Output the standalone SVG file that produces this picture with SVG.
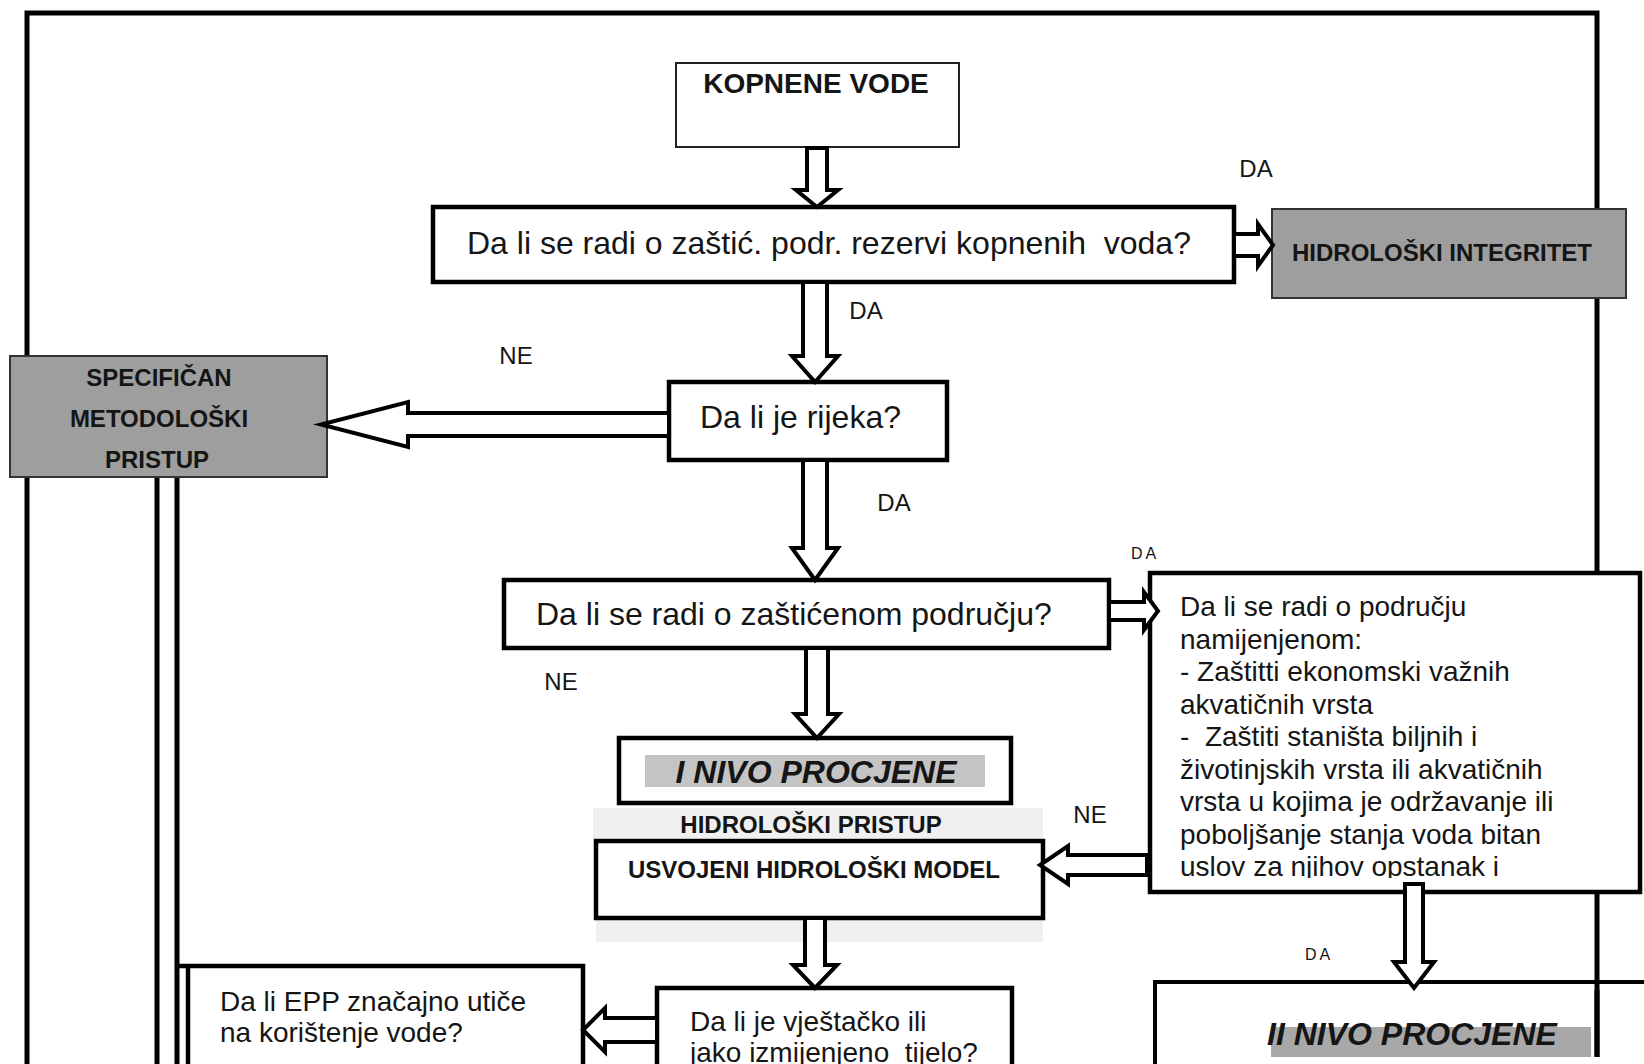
<svg xmlns="http://www.w3.org/2000/svg" width="1644" height="1064" viewBox="0 0 1644 1064">
<style>
text{font-family:"Liberation Sans",Arial,sans-serif;fill:#151515}
.q32{font-size:32px}
.q28{font-size:28px}
.b24{font-size:24px;font-weight:bold}
.b28{font-size:28px;font-weight:bold}
.bi32{font-size:32px;font-weight:bold;font-style:italic}
.lbl{font-size:24px}
.sm{font-size:16px;letter-spacing:3px}
.thick{fill:#fff;stroke:#000;stroke-width:4.5}
.thin{fill:#fff;stroke:#222;stroke-width:2}
.gray{fill:#9e9e9e;stroke:#333;stroke-width:2}
.frame{fill:none;stroke:#000;stroke-width:5}
.arrow{fill:#fff;stroke:#000;stroke-width:4;stroke-linejoin:miter}
.mid{text-anchor:middle}
</style>
<defs>
<clipPath id="clip5"><rect x="1150" y="573" width="490" height="305"/></clipPath>
</defs>
<rect width="1644" height="1064" fill="#fff"/>
<g id="frame">
<path class="frame" d="M27,356 V13 H1597 V209 M1597,298 V573 M1597,892 V1057 M27,477 V1064"/>
<path class="frame" d="M157,477 V1064 M177,477 V1064"/>
</g>
<g id="n-kopnene">
<rect class="thin" x="676" y="63" width="283" height="84"/>
<text class="b28 mid" x="816" y="93">KOPNENE VODE</text>
</g>
<g id="n-zasticena-rezerva">
<rect class="thick" x="433" y="207" width="801" height="75"/>
<text class="q32" x="467" y="254" xml:space="preserve">Da li se radi o zaštić. podr. rezervi kopnenih  voda?</text>
</g>
<g id="n-hidroloski-integritet">
<rect class="gray" x="1272" y="209" width="354" height="89"/>
<text class="b24" x="1292" y="261">HIDROLOŠKI INTEGRITET</text>
</g>
<g id="n-specifican">
<rect class="gray" x="10" y="356" width="317" height="121"/>
<text class="b24 mid" x="159" y="386">SPECIFIČAN</text>
<text class="b24 mid" x="159" y="427">METODOLOŠKI</text>
<text class="b24 mid" x="157" y="468">PRISTUP</text>
</g>
<g id="n-rijeka">
<rect class="thick" x="669" y="382" width="278" height="78"/>
<text class="q32" x="700" y="428">Da li je rijeka?</text>
</g>
<g id="n-zasticeno-podrucje">
<rect class="thick" x="504" y="580" width="605" height="68"/>
<text class="q32" x="536" y="625">Da li se radi o zaštićenom području?</text>
</g>
<g id="n-namjena">
<rect class="thick" x="1150" y="573" width="490" height="319"/>
<g clip-path="url(#clip5)">
<text class="q28" x="1180" y="616">Da li se radi o području</text>
<text class="q28" x="1180" y="648.5">namijenjenom:</text>
<text class="q28" x="1180" y="681">- Zaštitti ekonomski važnih</text>
<text class="q28" x="1180" y="713.5">akvatičnih vrsta</text>
<text class="q28" x="1180" y="746" xml:space="preserve">-  Zaštiti staništa biljnih i</text>
<text class="q28" x="1180" y="778.5">životinjskih vrsta ili akvatičnih</text>
<text class="q28" x="1180" y="811">vrsta u kojima je održavanje ili</text>
<text class="q28" x="1180" y="843.5">poboljšanje stanja voda bitan</text>
<text class="q28" x="1180" y="876">uslov za njihov opstanak i</text>
</g>
</g>
<g id="n-i-nivo">
<rect class="thick" x="619" y="738" width="392" height="65"/>
<rect x="645" y="755" width="340" height="32" fill="#c4c4c4"/>
<text class="bi32 mid" x="816" y="783">I NIVO PROCJENE</text>
</g>
<g id="n-usvojeni">
<rect x="593" y="808" width="450" height="30" fill="#f0f0f0"/>
<text class="b24 mid" x="811" y="833">HIDROLOŠKI PRISTUP</text>
<rect x="596" y="918" width="447" height="24" fill="#efefef"/>
<rect class="thick" x="596" y="841" width="447" height="77"/>
<text class="b24 mid" x="814" y="878">USVOJENI HIDROLOŠKI MODEL</text>
</g>
<g id="n-ii-nivo">
<path d="M1155,1064 V982 H1644" fill="#fff" stroke="#000" stroke-width="4"/>
<rect x="1271" y="1027" width="320" height="30" fill="#a8a8a8"/>
<text class="bi32" x="1267" y="1045">II NIVO PROCJENE</text>
<path d="M1597,982 V1057" stroke="#000" stroke-width="5"/>
</g>
<g id="n-vjestacko">
<rect class="thick" x="657" y="988" width="355" height="90"/>
<text class="q28" x="690" y="1031">Da li je vještačko ili</text>
<text class="q28" x="690" y="1062" xml:space="preserve">jako izmijenjeno  tijelo?</text>
</g>
<g id="n-epp">
<path d="M177,966 H583 V1064 M188,966 V1064" fill="#fff" stroke="#000" stroke-width="4.5"/>
<text class="q28" x="220" y="1011">Da li EPP značajno utiče</text>
<text class="q28" x="220" y="1042">na korištenje vode?</text>
</g>
<g id="connectors">
<polygon class="arrow" points="807,148 827,148 827,190 838,190 817,207 796,190 807,190"/>
<polygon class="arrow" points="803,282 827,282 827,356 838,356 815,382 792,356 803,356"/>
<polygon class="arrow" points="803,460 827,460 827,548 838,548 815,580 792,548 803,548"/>
<polygon class="arrow" points="806,648 828,648 828,714 839,714 817,738 795,714 806,714"/>
<polygon class="arrow" points="805,918 825,918 825,965 837,965 815,988 793,965 805,965"/>
<polygon class="arrow" points="1405,884 1423,884 1423,962 1434,962 1414,988 1394,962 1405,962"/>
<polygon class="arrow" points="1234,234 1258,234 1258,224 1273,245 1258,266 1258,256 1234,256"/>
<polygon class="arrow" points="1109,602 1144,602 1144,592 1158,611 1144,630 1144,620 1109,620"/>
<polygon class="arrow" points="669,413 408,413 408,402 321,424.5 408,447 408,436 669,436"/>
<polygon class="arrow" points="1147,855 1068,855 1068,846 1040,865 1068,884 1068,875 1147,875"/>
<polygon class="arrow" points="657,1018 605,1018 605,1008 583,1030 605,1052 605,1042 657,1042"/>
<text class="lbl mid" x="1256" y="177">DA</text>
<text class="lbl mid" x="866" y="319">DA</text>
<text class="lbl mid" x="516" y="364">NE</text>
<text class="lbl mid" x="894" y="511">DA</text>
<text class="sm mid" x="1145" y="559">DA</text>
<text class="lbl mid" x="561" y="690">NE</text>
<text class="lbl mid" x="1090" y="823">NE</text>
<text class="sm mid" x="1319" y="960">DA</text>
</g>
</svg>
